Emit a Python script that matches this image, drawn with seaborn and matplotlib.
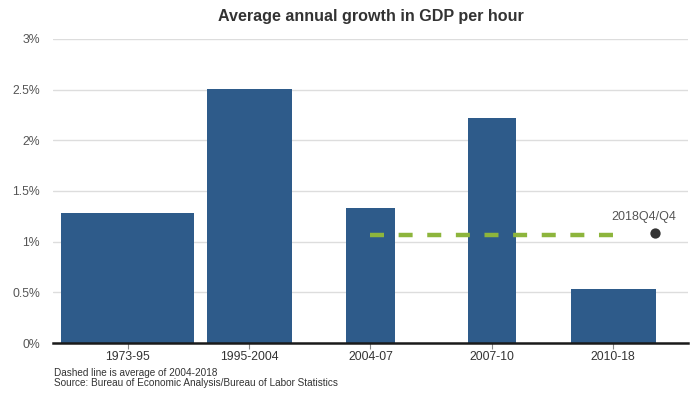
import matplotlib
matplotlib.use("Agg")
import matplotlib.pyplot as plt
import seaborn as sns
import pandas as pd

periods = ["1973-95", "1995-2004", "2004-07", "2007-10", "2010-18"]
growth = [1.28, 2.51, 1.33, 2.22, 0.53]
bar_widths = [1.1, 0.7, 0.4, 0.4, 0.7]
avg_2004_2018 = 1.07
latest_label = "2018Q4/Q4"
latest_value = 1.09
yticks = [0, 0.5, 1, 1.5, 2, 2.5, 3]
ytick_labels = ["0%", "0.5%", "1%", "1.5%", "2%", "2.5%", "3%"]

sns.set_style("white")
plt.rcParams["font.family"] = ["Liberation Sans", "DejaVu Sans"]

df = pd.DataFrame({"period": periods, "growth": growth})

fig = plt.figure(figsize=(6.98, 3.93), dpi=100)
ax = fig.add_axes([0.0764, 0.1272, 0.9088, 0.7736])

sns.barplot(data=df, x="period", y="growth", color="#2E5B8A", saturation=1,
            width=0.7, ax=ax, zorder=2)
for patch, w in zip(ax.patches, bar_widths):
    cx = patch.get_x() + patch.get_width() / 2
    patch.set_width(w)
    patch.set_x(cx - w / 2)
    patch.set_edgecolor("none")

ax.plot([2, 4], [avg_2004_2018, avg_2004_2018], color="#8DB53C", lw=3.2,
        dashes=(3.15, 3.29), zorder=3, solid_capstyle="butt", dash_capstyle="butt")
ax.scatter([4.34], [latest_value], s=55, color="#333333", zorder=4, linewidths=0)
ax.text(4.255, latest_value + 0.15, latest_label, ha="center", va="center",
        fontsize=9, color="#555555")

ax.set_xlim(-0.613, 4.613)
ax.set_ylim(0, 3)
ax.set_yticks(yticks)
ax.set_yticklabels(ytick_labels)
ax.set_xlabel("")
ax.set_ylabel("")
ax.yaxis.grid(True, color="#DDDDDD", lw=1, zorder=0)
ax.set_axisbelow(True)
for s in ["top", "right", "left"]:
    ax.spines[s].set_visible(False)
ax.spines["bottom"].set_color("#1a1a1a")
ax.spines["bottom"].set_linewidth(1.8)
ax.spines["bottom"].set_zorder(5)
ax.tick_params(axis="y", length=0, pad=9.5, labelsize=8.8, labelcolor="#555555")
ax.tick_params(axis="x", length=4, width=0.8, color="#888888", pad=2,
               labelsize=8.8, labelcolor="#333333", bottom=True)

fig.text(0.5309, 0.957, "Average annual growth in GDP per hour", ha="center",
         va="center", fontsize=11.6, fontweight="bold", color="#333333")
fig.text(0.077, 1 - 373 / 393, "Dashed line is average of 2004-2018", ha="left",
         va="center", fontsize=7.2, color="#333333")
fig.text(0.077, 1 - 383 / 393, "Source: Bureau of Economic Analysis/Bureau of Labor Statistics",
         ha="left", va="center", fontsize=7.2, color="#333333")

fig.savefig("out.png", dpi=100)
